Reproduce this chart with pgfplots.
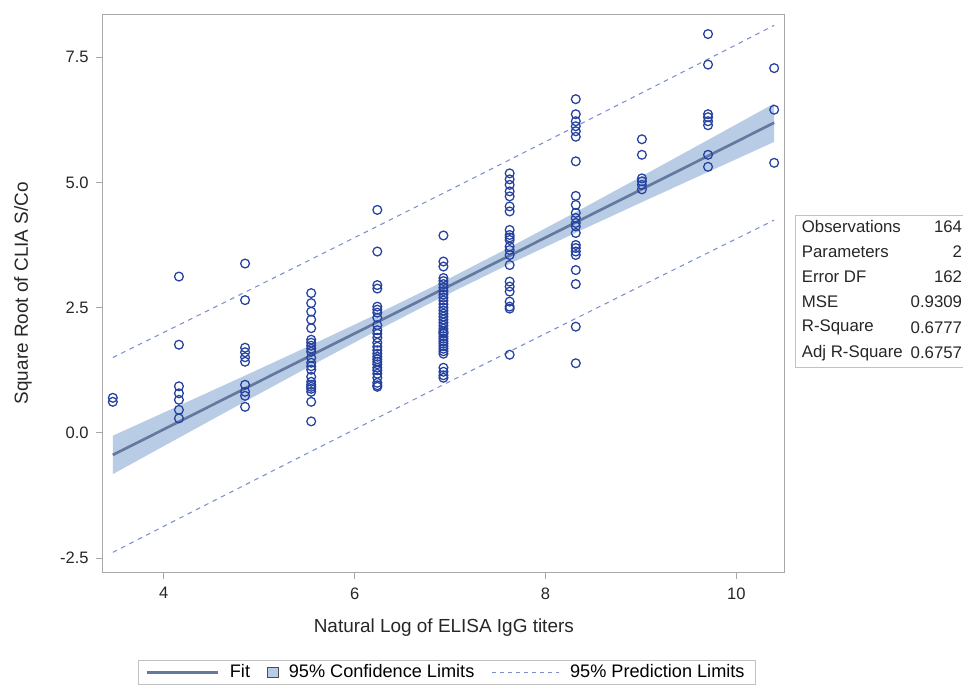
\documentclass[border=0pt]{standalone}
\usepackage{fontspec}
\setmainfont{Liberation Sans}
\usepackage{pgfplots}
\pgfplotsset{compat=1.18}

\definecolor{ptcol}{HTML}{2541A0}
\definecolor{fitcol}{HTML}{65789E}
\definecolor{bandcol}{HTML}{B9CCE6}
\definecolor{predcol}{HTML}{7F8ED0}
\definecolor{framecol}{HTML}{A8A8A8}

\pgfplotsset{
  fitleg/.style={legend image code/.code={\draw[##1] (0pt,0pt) -- (53pt,0pt);}},
  predleg/.style={legend image code/.code={\draw[##1] (0pt,0pt) -- (50pt,0pt);}},
  bandleg/.style={legend image code/.code={\draw[fill=bandcol, draw=black!70, line width=0.5pt] (0pt,-3.8pt) rectangle (7.6pt,3.8pt);}},
}

\begin{document}
\begin{tikzpicture}
\useasboundingbox (-77pt,-87pt) rectangle (645pt,429pt);
\begin{axis}[
    scale only axis,
    width=511.5pt, height=418.5pt,
    xmin=3.36, xmax=10.51,
    ymin=-2.78, ymax=8.36,
    xtick={4,6,8,10},
    ytick={-2.5,0,2.5,5,7.5},
    /pgf/number format/assume math mode=true,
    tick align=outside,
    major tick length=5pt,
    tick style={framecol, line width=0.6pt},
    axis line style={framecol, line width=0.7pt},
    ticklabel style={font=\fontsize{12.4}{14}\selectfont, text=black!85},
    xticklabel style={yshift=-3pt},
    yticklabel style={xshift=-2pt, /pgf/number format/.cd, fixed, fixed zerofill, precision=1},
    xtick pos=bottom, ytick pos=left,
    xlabel={Natural Log of ELISA IgG titers},
    ylabel={Square Root of CLIA S/Co},
    label style={font=\fontsize{14.2}{16}\selectfont, text=black!85},
    xlabel style={at={(axis description cs:0.5,-0.1)}, anchor=center},
    ylabel style={at={(axis description cs:-0.117,0.5)}, anchor=center},
    legend style={at={(axis description cs:0.504,-0.157)}, anchor=north,
        legend columns=3, draw=framecol!70, font=\fontsize{13.6}{15}\selectfont,
        inner xsep=6pt, inner ysep=1.5pt,
        /tikz/every odd column/.append style={column sep=6pt},
        /tikz/every even column/.append style={column sep=11pt}},
    legend cell align=left,
]
% 95% confidence band
\addplot[draw=none, fill=bandcol, forget plot] coordinates {
 (3.466,-0.057) (4.159,0.543) (4.852,1.144) (5.545,1.753) (6.238,2.376)
 (6.931,3.023) (7.625,3.703) (8.318,4.406) (9.011,5.123) (9.704,5.847) (10.397,6.573)
 (10.397,5.807) (9.704,5.207) (9.011,4.605) (8.318,3.996) (7.625,3.373)
 (6.931,2.725) (6.238,2.046) (5.545,1.343) (4.852,0.626) (4.159,-0.097) (3.466,-0.823)
} -- cycle;
% 95% prediction limits
\addplot[predcol, line width=0.8pt, forget plot, dash pattern=on 3.5pt off 3.5pt] coordinates {
 (3.466,1.504) (4.159,2.155) (4.852,2.808) (5.545,3.465) (6.238,4.124) (6.931,4.785)
 (7.625,5.451) (8.318,6.118) (9.011,6.787) (9.704,7.459) (10.397,8.134)
};
\addplot[predcol, line width=0.8pt, forget plot, dash pattern=on 3.5pt off 3.5pt] coordinates {
 (3.466,-2.384) (4.159,-1.709) (4.852,-1.038) (5.545,-0.369) (6.238,0.298) (6.931,0.963)
 (7.625,1.625) (8.318,2.284) (9.011,2.941) (9.704,3.595) (10.397,4.246)
};
% fit
\addplot[fitcol, line width=2pt, forget plot] coordinates {
 (3.466,-0.440) (10.397,6.190)
};
% observations
\addplot[only marks, mark=o, mark size=3.3pt, mark options={ptcol, line width=0.95pt}, forget plot] table {
x y
3.466 0.70
3.466 0.62
4.159 3.12
4.159 1.76
4.159 0.93
4.159 0.79
4.159 0.66
4.159 0.46
4.159 0.29
4.852 3.38
4.852 2.65
4.852 1.70
4.852 1.61
4.852 1.51
4.852 1.42
4.852 0.96
4.852 0.82
4.852 0.74
4.852 0.52
5.545 2.79
5.545 2.59
5.545 2.42
5.545 2.26
5.545 2.09
5.545 1.86
5.545 1.80
5.545 1.74
5.545 1.68
5.545 1.62
5.545 1.50
5.545 1.40
5.545 1.33
5.545 1.26
5.545 1.12
5.545 1.02
5.545 0.96
5.545 0.92
5.545 0.88
5.545 0.82
5.545 0.62
5.545 0.23
6.238 4.45
6.238 3.62
6.238 2.95
6.238 2.88
6.238 2.52
6.238 2.46
6.238 2.40
6.238 2.30
6.238 2.15
6.238 2.05
6.238 1.98
6.238 1.90
6.238 1.80
6.238 1.72
6.238 1.65
6.238 1.58
6.238 1.52
6.238 1.47
6.238 1.42
6.238 1.37
6.238 1.30
6.238 1.25
6.238 1.18
6.238 1.10
6.238 1.00
6.238 0.95
6.238 0.92
6.931 3.94
6.931 3.42
6.931 3.32
6.931 3.09
6.931 3.03
6.931 2.97
6.931 2.90
6.931 2.83
6.931 2.76
6.931 2.70
6.931 2.64
6.931 2.57
6.931 2.50
6.931 2.44
6.931 2.38
6.931 2.32
6.931 2.26
6.931 2.20
6.931 2.14
6.931 2.08
6.931 2.03
6.931 2.00
6.931 1.98
6.931 1.93
6.931 1.88
6.931 1.83
6.931 1.78
6.931 1.73
6.931 1.68
6.931 1.63
6.931 1.58
6.931 1.30
6.931 1.22
6.931 1.15
6.931 1.10
7.625 5.18
7.625 5.06
7.625 4.95
7.625 4.82
7.625 4.72
7.625 4.52
7.625 4.42
7.625 4.05
7.625 3.95
7.625 3.90
7.625 3.85
7.625 3.72
7.625 3.65
7.625 3.55
7.625 3.35
7.625 3.02
7.625 2.92
7.625 2.82
7.625 2.62
7.625 2.52
7.625 2.48
7.625 1.56
8.318 6.66
8.318 6.36
8.318 6.22
8.318 6.12
8.318 6.02
8.318 5.91
8.318 5.42
8.318 4.73
8.318 4.55
8.318 4.39
8.318 4.29
8.318 4.19
8.318 4.12
8.318 3.99
8.318 3.75
8.318 3.69
8.318 3.62
8.318 3.55
8.318 3.25
8.318 2.97
8.318 2.12
8.318 1.39
9.011 5.86
9.011 5.55
9.011 5.08
9.011 5.02
9.011 4.95
9.011 4.86
9.704 7.96
9.704 7.35
9.704 6.36
9.704 6.30
9.704 6.22
9.704 6.14
9.704 5.55
9.704 5.31
10.397 7.28
10.397 6.45
10.397 5.39
};
\addlegendimage{fitcol, line width=2pt, fitleg}
\addlegendentry{Fit}
\addlegendimage{bandleg}
\addlegendentry{95\% Confidence Limits}
\addlegendimage{predcol, line width=0.8pt, dash pattern=on 3pt off 3pt, predleg}
\addlegendentry{95\% Prediction Limits}
\end{axis}
% fit statistics inset
\draw[framecol!70, line width=0.6pt] (519pt,153.75pt) rectangle (650pt,267.75pt);
\begin{scope}[every node/.style={font=\fontsize{12.6}{14}\selectfont, inner sep=0pt, text=black!85}]
\node[anchor=west] at (524pt,259.0pt) {Observations};
\node[anchor=east] at (644.5pt,259.0pt) {164};
\node[anchor=west] at (524pt,240.1pt) {Parameters};
\node[anchor=east] at (644.5pt,240.1pt) {2};
\node[anchor=west] at (524pt,221.3pt) {Error DF};
\node[anchor=east] at (644.5pt,221.3pt) {162};
\node[anchor=west] at (524pt,202.5pt) {MSE};
\node[anchor=east] at (644.5pt,202.5pt) {0.9309};
\node[anchor=west] at (524pt,183.4pt) {R-Square};
\node[anchor=east] at (644.5pt,183.4pt) {0.6777};
\node[anchor=west] at (524pt,164.3pt) {Adj R-Square};
\node[anchor=east] at (644.5pt,164.3pt) {0.6757};
\end{scope}
\end{tikzpicture}
\end{document}
